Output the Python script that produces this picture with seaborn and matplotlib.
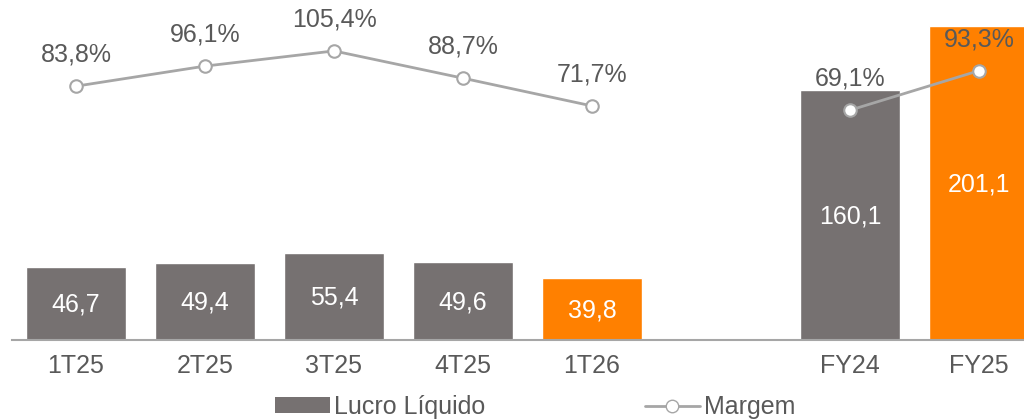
import numpy as np
import pandas as pd
import matplotlib
matplotlib.use("Agg")
import matplotlib.pyplot as plt
import seaborn as sns
from matplotlib.patches import Patch
from matplotlib.lines import Line2D

# Data
periodos = ["1T25", "2T25", "3T25", "4T25", "1T26", "FY24", "FY25"]
lucro = [46.7, 49.4, 55.4, 49.6, 39.8, 160.1, 201.1]
margem = [83.8, 96.1, 105.4, 88.7, 71.7, 69.1, 93.3]
cores = ["#767171", "#767171", "#767171", "#767171", "#FF8000", "#767171", "#FF8000"]

# slot order with one empty gap between quarters and years
ordem = ["1T25", "2T25", "3T25", "4T25", "1T26", " ", "FY24", "FY25"]
pos = {c: i for i, c in enumerate(ordem)}

sns.set_style("white")
plt.rcParams["font.family"] = ["Liberation Sans", "DejaVu Sans"]

txt = "#595959"
linha = "#A6A6A6"
fs = 18

df = pd.DataFrame({"periodo": periodos, "lucro": lucro, "margem": margem})

fig = plt.figure(figsize=(10.24, 4.2), dpi=100)
ax = fig.add_axes([11.5 / 1024, 80 / 420, 1032 / 1024, 340 / 420])

sns.barplot(data=df, x="periodo", y="lucro", hue="periodo", order=ordem,
            palette=dict(zip(periodos, cores)), width=0.775, legend=False,
            saturation=1, ax=ax)
ax.set_ylim(0, 217.5)
ax.set_xlim(-0.5, 7.5)
ax.set_xlabel("")
ax.set_ylabel("")
ax.set_yticks([])
for s in ["top", "right", "left"]:
    ax.spines[s].set_visible(False)
ax.spines["bottom"].set_color(linha)
ax.spines["bottom"].set_linewidth(1.5)
ax.tick_params(axis="x", length=0, pad=10, labelsize=fs, labelcolor=txt)

for p, v in zip(periodos, lucro):
    ax.text(pos[p], v / 2 - 0.8, f"{v:.1f}".replace(".", ","), ha="center",
            va="center", color="white", fontsize=fs)

# Margem on secondary axis, two separate segments
ax2 = ax.twinx()
ax2.set_ylim(-71.7, 136.6)
ax2.set_yticks([])
for s in ax2.spines.values():
    s.set_visible(False)

seg1 = pd.DataFrame({"x": [pos[p] for p in periodos[:5]], "m": margem[:5]})
seg2 = pd.DataFrame({"x": [pos[p] for p in periodos[5:]], "m": margem[5:]})
for seg in [seg1, seg2]:
    sns.lineplot(data=seg, x="x", y="m", ax=ax2, color=linha, linewidth=2,
                 marker="o", markersize=9, markerfacecolor="white",
                 markeredgecolor=linha, markeredgewidth=1.5)
ax2.set_xlim(-0.5, 7.5)
ax2.set_xlabel("")
ax2.set_ylabel("")

for p, m in zip(periodos, margem):
    ax2.text(pos[p], m + 19.4, f"{m:.1f}%".replace(".", ","), ha="center",
             va="center", color=txt, fontsize=fs)

handles = [Patch(facecolor="#767171", edgecolor="none"),
           Line2D([0], [0], color=linha, linewidth=2, marker="o", markersize=9,
                  markerfacecolor="white", markeredgecolor=linha)]
fig.legend(handles, ["Lucro Líquido", "Margem"], loc="center",
           bbox_to_anchor=(535 / 1024, 13 / 420), ncol=2, frameon=False,
           fontsize=fs, labelcolor=txt, handlelength=2.2, handleheight=0.6,
           handletextpad=0.15, columnspacing=6.4)

fig.savefig("out.png", dpi=100)
